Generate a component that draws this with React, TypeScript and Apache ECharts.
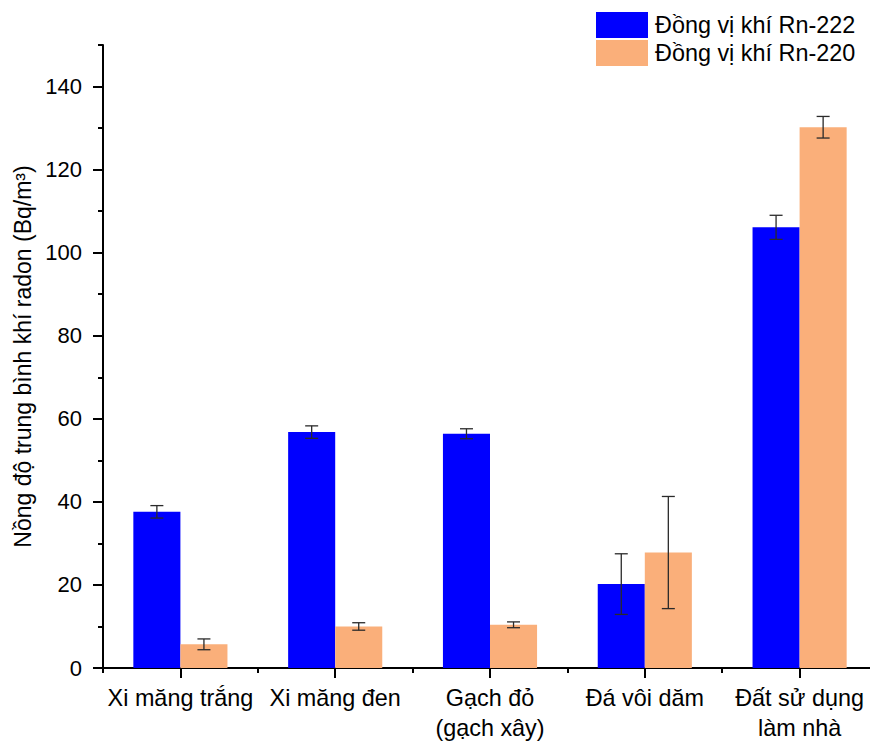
import React, { useEffect, useRef } from "react";
import * as echarts from "echarts";

const categories = [
  "Xi măng trắng",
  "Xi măng đen",
  "Gạch đỏ\n(gạch xây)",
  "Đá vôi dăm",
  "Đất sử dụng\nlàm nhà",
];
const seriesNames = ["Đồng vị khí Rn-222", "Đồng vị khí Rn-220"];
const rn222 = [37.6, 56.8, 56.4, 20.2, 106.1];
const rn222Err = [1.5, 1.5, 1.2, 7.3, 2.9];
const rn220 = [5.7, 10.0, 10.4, 27.8, 130.2];
const rn220Err = [1.3, 0.9, 0.7, 13.5, 2.6];
const yMajorTicks = [0, 20, 40, 60, 80, 100, 120, 140];
const yMinorTicks = [10, 30, 50, 70, 90, 110, 130, 150];
const yAxisTitle = "Nồng độ trung bình khí radon (Bq/m³)";

const COLORS = ["#0000FF", "#FAAF7A"];
const FONT = "Liberation Sans, Arial, sans-serif";
const BAR_FRAC = 0.304;

function errorSeries(values: number[], errs: number[], side: number) {
  return {
    type: "custom",
    xAxisIndex: 0,
    yAxisIndex: 0,
    silent: true,
    z: 10,
    data: values.map((v, i) => [i, v - errs[i], v + errs[i]]),
    renderItem: (params: any, api: any) => {
      const idx = api.value(0);
      const lo = api.coord([idx, api.value(1)]);
      const hi = api.coord([idx, api.value(2)]);
      const bw = api.size([1, 0])[0] * BAR_FRAC;
      const x = lo[0] + (side * bw) / 2;
      const cap = 6.5;
      const style = { stroke: "#2a2a2a", lineWidth: 1.3 };
      return {
        type: "group",
        children: [
          { type: "line", shape: { x1: x, y1: lo[1], x2: x, y2: hi[1] }, style },
          { type: "line", shape: { x1: x - cap, y1: lo[1], x2: x + cap, y2: lo[1] }, style },
          { type: "line", shape: { x1: x - cap, y1: hi[1], x2: x + cap, y2: hi[1] }, style },
        ],
      };
    },
  };
}

export default function App() {
  const ref = useRef<HTMLDivElement>(null);
  useEffect(() => {
    if (!ref.current) return;
    const chart = echarts.init(ref.current, null, { renderer: "svg" });
    const axisLine = { show: true, lineStyle: { color: "#000", width: 2 } };
    chart.setOption({
      animation: false,
      backgroundColor: "#fff",
      textStyle: { fontFamily: FONT },
      legend: {
        data: seriesNames,
        orient: "vertical",
        left: 596,
        top: 12,
        padding: 0,
        itemWidth: 52,
        itemHeight: 26,
        itemGap: 2,
        icon: "rect",
        textStyle: { fontSize: 23.4, color: "#000", fontFamily: FONT, padding: [0, 0, 0, 2] },
      },
      grid: { left: 103, right: 13, top: 45, bottom: 74, containLabel: false },
      xAxis: [
        {
          type: "category",
          data: categories,
          position: "bottom",
          axisLine,
          axisTick: { show: true, alignWithLabel: true, length: 10, lineStyle: { color: "#000", width: 2 } },
          axisLabel: {
            fontSize: 23.4,
            color: "#000",
            margin: 15,
            lineHeight: 30,
            fontFamily: FONT,
            interval: 0,
          },
          splitLine: { show: false },
        },
        {
          type: "category",
          data: categories,
          position: "bottom",
          axisLine: { show: false },
          axisTick: { show: true, alignWithLabel: false, length: 5, lineStyle: { color: "#000", width: 2 } },
          axisLabel: { show: false },
          splitLine: { show: false },
        },
      ],
      yAxis: [
        {
          type: "value",
          min: 0,
          max: 150,
          interval: 10,
          position: "left",
          name: yAxisTitle,
          nameLocation: "middle",
          nameGap: 64,
          nameRotate: 90,
          nameTextStyle: { fontSize: 23, color: "#000", fontFamily: FONT },
          axisLine,
          axisTick: { show: true, length: 10, customValues: yMajorTicks, lineStyle: { color: "#000", width: 2 } },
          axisLabel: { fontSize: 22, color: "#000", margin: 21, customValues: yMajorTicks, fontFamily: FONT },
          splitLine: { show: false },
        },
        {
          type: "value",
          min: 0,
          max: 150,
          interval: 10,
          position: "left",
          axisLine: { show: false },
          axisTick: { show: true, length: 5, customValues: yMinorTicks, lineStyle: { color: "#000", width: 2 } },
          axisLabel: { show: false },
          splitLine: { show: false },
        },
      ],
      series: [
        {
          name: seriesNames[0],
          type: "bar",
          data: rn222,
          barWidth: BAR_FRAC * 100 + "%",
          barGap: "0%",
          itemStyle: { color: COLORS[0] },
        },
        {
          name: seriesNames[1],
          type: "bar",
          data: rn220,
          barWidth: BAR_FRAC * 100 + "%",
          barGap: "0%",
          itemStyle: { color: COLORS[1] },
        },
        errorSeries(rn222, rn222Err, -1),
        errorSeries(rn220, rn220Err, 1),
      ],
    });
    return () => chart.dispose();
  }, []);
  return (
    <div
      ref={ref}
      style={{ position: "fixed", left: 0, top: 0, width: 890, height: 743, background: "#fff" }}
    />
  );
}
